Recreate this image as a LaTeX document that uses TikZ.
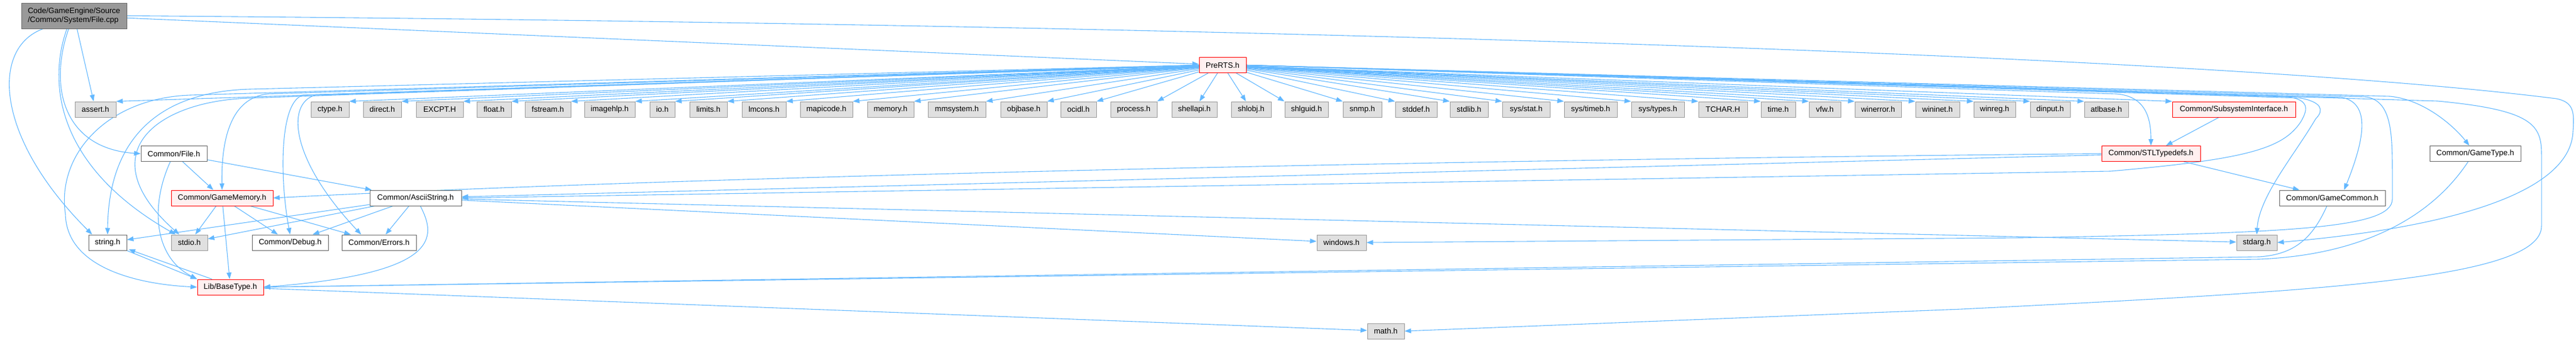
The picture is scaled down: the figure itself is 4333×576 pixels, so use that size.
\documentclass[tikz,border=0pt]{standalone}
\usepackage{fontspec}
\setmainfont{Liberation Sans}
\usetikzlibrary{arrows.meta,backgrounds}
\definecolor{incblue}{HTML}{63B8FF}
\definecolor{sysfill}{HTML}{E0E0E0}
\definecolor{sysline}{HTML}{999999}
\definecolor{darkline}{HTML}{666666}
\definecolor{redfill}{HTML}{FFF0F0}
\begin{document}
\begin{tikzpicture}[x=1pt, y=-1pt, font=\fontsize{13}{15}\selectfont,
        filebox/.style={draw, line width=1pt, minimum height=26, inner sep=2pt},
        sysbox/.style={filebox, fill=sysfill, draw=sysline},
        userbox/.style={filebox, fill=white, draw=darkline},
        redbox/.style={filebox, fill=redfill, draw=red},
        incl/.style={draw=incblue, line width=1.1pt, -{Triangle[length=11pt, width=8pt]}}]
        \useasboundingbox (0,0) rectangle (4333,576);
        % files
        \node [filebox, fill=sysline, draw=darkline, minimum width=177, minimum height=43, align=left] (root) at (124.5,26.5) {Code/GameEngine/Source\\/Common/System/File.cpp};
        \node [redbox, minimum width=79] (prerts) at (2056.5,109.5) {PreRTS.h};
        \foreach \name/\lbl/\xl/\xr in {assert/assert.h/126/195, ctype/ctype.h/523/587,
                direct/direct.h/611/675, excpt/EXCPT.H/700/779, float/float.h/802/860,
                fstream/fstream.h/883/960, imagehlp/imagehlp.h/983/1068, io/io.h/1093/1135,
                limits/limits.h/1160/1223, lmcons/lmcons.h/1248/1322, mapicode/mapicode.h/1346/1434,
                memory/memory.h/1459/1537, mmsystem/mmsystem.h/1561/1658, objbase/objbase.h/1683/1761,
                ocidl/ocidl.h/1784/1844, process/process.h/1868/1946, shellapi/shellapi.h/1971/2047,
                shlobj/shlobj.h/2071/2138, shlguid/shlguid.h/2161/2234, snmp/snmp.h/2259/2324,
                stddef/stddef.h/2347/2417, stdlib/stdlib.h/2439/2503, sysstat/{sys/stat.h}/2527/2607,
                systimeb/{sys/timeb.h}/2631/2720, systypes/{sys/types.h}/2744/2833, tchar/TCHAR.H/2857/2939,
                time/time.h/2962/3020, vfw/vfw.h/3043/3096, winerror/winerror.h/3120/3198,
                wininet/wininet.h/3222/3296, winreg/winreg.h/3320/3390, dinput/dinput.h/3415/3482,
                atlbase/atlbase.h/3506/3580}
            \node [sysbox, minimum width={\xr-\xl}] (\name) at ({(\xl+\xr)/2},184) {\lbl};
        \node [redbox, minimum width=207] (subsys) at (3757.5,184) {Common/SubsystemInterface.h};
        \node [userbox, minimum width=111] (fileh) at (292.5,258.5) {Common/File.h};
        \node [redbox, minimum width=166] (stl) at (3618,258.5) {Common/STLTypedefs.h};
        \node [userbox, minimum width=153] (gametype) at (4163.5,258.5) {Common/GameType.h};
        \node [redbox, minimum width=171] (gamememory) at (373.5,333) {Common/GameMemory.h};
        \node [userbox, minimum width=154] (ascii) at (699,333) {Common/AsciiString.h};
        \node [userbox, minimum width=178] (gamecommon) at (3923,333) {Common/GameCommon.h};
        \node [userbox, minimum width=64] (stringh) at (181,408) {string.h};
        \node [sysbox, minimum width=61] (stdio) at (318.5,408) {stdio.h};
        \node [userbox, minimum width=128] (debug) at (488,408) {Common/Debug.h};
        \node [userbox, minimum width=125] (errors) at (637.5,408) {Common/Errors.h};
        \node [sysbox, minimum width=83] (windows) at (2256.5,408) {windows.h};
        \node [sysbox, minimum width=68] (stdarg) at (3796,408) {stdarg.h};
        \node [redbox, minimum width=111] (basetype) at (387.5,483) {Lib/BaseType.h};
        \node [sysbox, minimum width=62] (math) at (2331,557) {math.h};
        % includes
        \begin{scope}[on background layer]
        \draw [incl] (root) -- (prerts);
        \draw [incl] (root) -- (assert);
        \draw [incl] ([xshift=-9pt]root.south) .. controls (80,150) and (110,250) .. (fileh.west);
        \draw [incl] ([xshift=-12pt]root.south) .. controls (80,140) and (95,280) .. ([xshift=-23pt]stdio.north);
        \draw [incl] ([xshift=-52pt]root.south) .. controls (-15,80) and (-10,230) .. ([xshift=-26pt]stringh.north);
        \draw [incl] (root.east) .. controls (2000,40) and (3700,90) .. (4300,166) .. controls (4330,172) and (4330,190) .. (4328,220) .. controls (4325,330) and (4100,385) .. (stdarg.east);
        \foreach \n in {assert,ctype,direct,excpt,float,fstream,imagehlp,io,limits,lmcons,mapicode,memory,mmsystem,objbase,ocidl,process}
            \draw [incl] (prerts) -- (\n.north east);
        \foreach \n in {shellapi,shlobj}
            \draw [incl] (prerts) -- (\n);
        \foreach \n in {shlguid,snmp,stddef,stdlib,sysstat,systimeb,systypes,tchar,time,vfw,winerror,wininet,winreg,dinput,atlbase,subsys}
            \draw [incl] (prerts) -- (\n.north west);
        \draw [incl] (prerts.west) -- (420,150) .. controls (250,155) and (182,250) .. (stringh.north);
        \draw [incl] (prerts.west) -- (320,160) .. controls (180,165) and (95,260) .. (110,360) .. controls (112,450) and (230,478) .. (basetype.west);
        \draw [incl] (prerts.west) -- (420,165) .. controls (260,170) and (150,260) .. ([xshift=-17pt]stdio.north);
        \draw [incl] (prerts.west) -- (450,158) .. controls (390,165) and (372,230) .. (gamememory.north);
        \draw [incl] (prerts.west) -- (510,160) .. controls (470,170) and (470,300) .. (debug.north);
        \draw [incl] (prerts.west) -- (530,160) .. controls (480,175) and (490,270) .. ([xshift=-30pt]errors.north);
        \draw [incl] (prerts.east) -- (3560,158) .. controls (3610,162) and (3618,200) .. (stl.north);
        \draw [incl] (prerts.east) -- (4020,162) .. controls (4080,168) and (4130,215) .. ([xshift=-10pt]gametype.north);
        \draw [incl] (prerts.east) -- (3940,164) .. controls (3990,175) and (3975,240) .. ([xshift=20pt]gamecommon.north);
        \draw [incl] (prerts.east) -- (3980,163) .. controls (4025,170) and (4024,230) .. (4024,300) -- (4024,335) .. controls (4024,385) and (3850,392) .. (3400,400) -- (windows.east);
        \draw [incl] (prerts.east) -- (3870,165) .. controls (3905,172) and (3910,185) .. (3895,200) .. controls (3860,260) and (3800,330) .. (stdarg.north);
        \draw [incl] (prerts.east) -- (3850,163) .. controls (3880,168) and (3885,180) .. (3870,205) .. controls (3840,250) and (3780,268) .. (3550,288) -- (ascii.east);
        \draw [incl] (prerts.east) -- (4100,170) .. controls (4260,185) and (4275,210) .. (4275,260) -- (4275,380) .. controls (4275,470) and (3900,490) .. (3300,520) -- (math.east);
        \draw [incl] (subsys) -- (stl);
        \draw [incl] (stl.west) .. controls (2500,268) and (1200,295) .. (gamememory.east);
        \draw [incl] (stl) -- (ascii);
        \draw [incl] (stl) -- (gamecommon);
        \draw [incl] ([xshift=-9pt]gamecommon.south) .. controls (3890,400) and (3860,428) .. (3800,432) -- (basetype.east);
        \draw [incl] ([xshift=-12pt]gametype.south) .. controls (4080,380) and (3950,430) .. (3800,436) -- (basetype.east);
        \draw [incl] (fileh) -- (gamememory);
        \draw [incl] (fileh) -- (ascii);
        \draw [incl] ([xshift=-6pt]fileh.south) .. controls (255,340) and (255,430) .. (basetype.north west);
        \foreach \n in {stdio,debug,errors,basetype}
            \draw [incl] (gamememory) -- (\n);
        \foreach \n in {stringh,stdio,debug,errors,windows,stdarg}
            \draw [incl] (ascii) -- (\n);
        \draw [incl] ([xshift=8pt]ascii.south) .. controls (735,400) and (740,460) .. (basetype.east);
        \draw [incl] (stringh.south east) -- (basetype.north west);
        \draw [incl] ([xshift=25pt]basetype.north west) -- ([xshift=3pt,yshift=2pt]stringh.south east);
        \draw [incl] (basetype) -- (math);
        \end{scope}
\end{tikzpicture}
\end{document}
